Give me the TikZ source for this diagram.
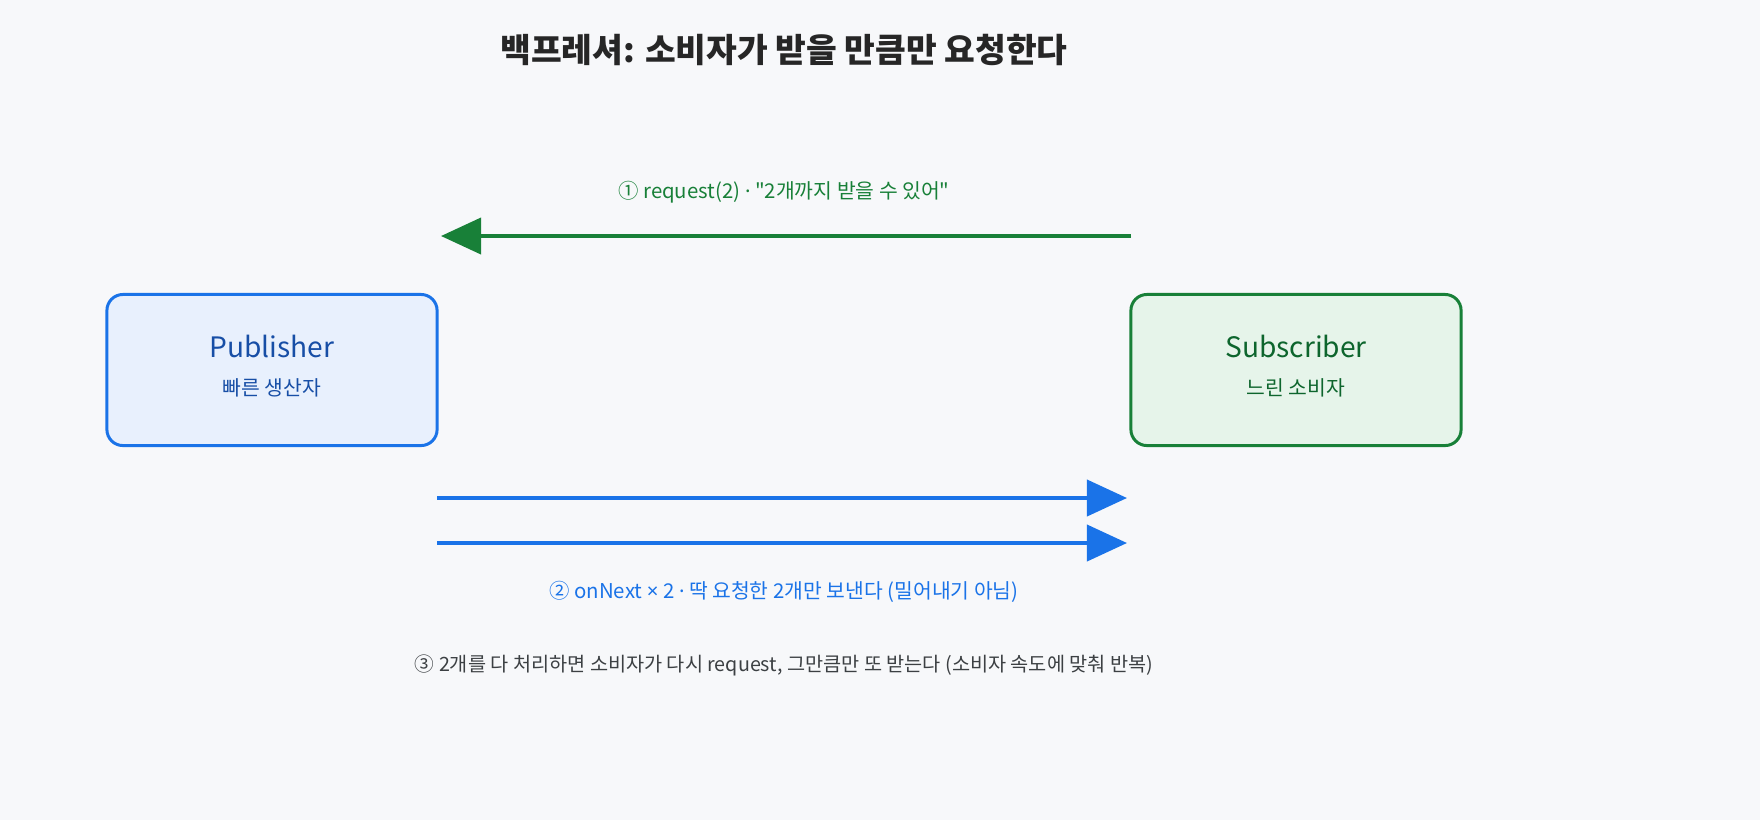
\documentclass[tikz,border=0pt]{standalone}
\usepackage{fontspec}
\setmainfont{Noto Sans CJK KR}
\newfontfamily\latinfont{Noto Sans}
\newcommand{\mdot}{{\latinfont ·}}
\newcommand{\mtimes}{{\latinfont ×}}
\usetikzlibrary{arrows.meta,positioning}
\definecolor{bgc}{HTML}{F7F8FA}
\definecolor{publine}{HTML}{1A73E8}
\definecolor{pubfill}{HTML}{E8F0FD}
\definecolor{pubtext}{HTML}{174EA6}
\definecolor{subline}{HTML}{188038}
\definecolor{subfill}{HTML}{E6F4EA}
\definecolor{subtext}{HTML}{0D652D}
\definecolor{notec}{HTML}{3C4043}
\tikzset{
  box/.style={draw, line width=0.85pt, rounded corners=0.16cm, minimum width=3.3cm, minimum height=1.51cm},
  flow/.style={line width=1.1pt, -{Triangle[length=0.4cm,width=0.36cm]}}
}
\begin{document}
\begin{tikzpicture}[x=0.01cm,y=-0.01cm]
    % background
    \fill[bgc] (0,0) rectangle (1760,820);

    % title
    \node[font=\fontsize{9.5pt}{11pt}\selectfont\bfseries, text=black!85] (title) at (784,50) {백프레셔: 소비자가 받을 만큼만 요청한다};

    % Publisher and Subscriber
    \node[box, draw=publine, fill=pubfill] (pub) at (272,370) {};
    \node[text=pubtext, font=\fontsize{8pt}{10pt}\selectfont] (pubname) at (272,346) {Publisher};
    \node[text=pubtext, font=\fontsize{5.8pt}{7pt}\selectfont] (pubsub) at (272,388) {빠른 생산자};
    \node[box, draw=subline, fill=subfill] (sub) at (1296,370) {};
    \node[text=subtext, font=\fontsize{8pt}{10pt}\selectfont] (subname) at (1296,346) {Subscriber};
    \node[text=subtext, font=\fontsize{5.8pt}{7pt}\selectfont] (subsub) at (1296,388) {느린 소비자};

    % request arrow
    \coordinate (reqs) at (1131,236);
    \coordinate (reqe) at (441,236);
    \draw[flow, draw=subline, fill=subline] (reqs) -- (reqe);
    \node[text=subline, font=\fontsize{5.8pt}{7pt}\selectfont] (reqlabel) at (784,192) {① request(2) \mdot{} \textquotedbl 2개까지 받을 수 있어\textquotedbl};

    % onNext arrows
    \coordinate (n1s) at (437,498);
    \coordinate (n1e) at (1127,498);
    \coordinate (n2s) at (437,543);
    \coordinate (n2e) at (1127,543);
    \draw[flow, draw=publine, fill=publine] (n1s) -- (n1e);
    \draw[flow, draw=publine, fill=publine] (n2s) -- (n2e);
    \node[text=publine, font=\fontsize{5.8pt}{7pt}\selectfont] (nextlabel) at (784,592) {② onNext \mtimes{} 2 \mdot{} 딱 요청한 2개만 보낸다 (밀어내기 아님)};

    % note
    \node[text=notec, font=\fontsize{5.6pt}{7pt}\selectfont] (note) at (784,665) {③ 2개를 다 처리하면 소비자가 다시 request, 그만큼만 또 받는다 (소비자 속도에 맞춰 반복)};
\end{tikzpicture}
\end{document}
